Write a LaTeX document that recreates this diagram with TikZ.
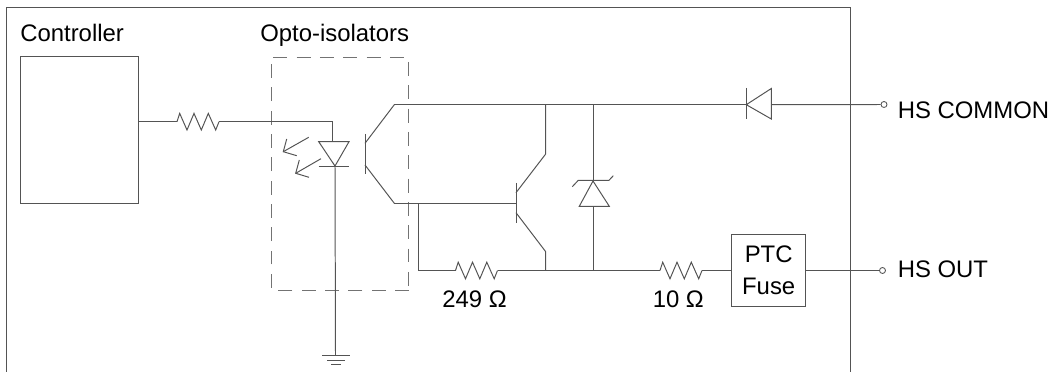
\documentclass[tikz,border=0pt]{standalone}
\usepackage{fontspec}
\setmainfont{Liberation Sans}
\usetikzlibrary{positioning}
\definecolor{wirecol}{gray}{0.33}
\definecolor{dashcol}{gray}{0.45}
\tikzset{
    wire/.style={draw=wirecol, line width=0.7pt},
    dashline/.style={draw=dashcol, line width=0.7pt, dash pattern=on 9.95pt off 6.64pt},
    label/.style={inner sep=0pt, anchor=base west, font=\fontsize{17}{22.8}\selectfont},
    box/.style={draw=wirecol, line width=0.7pt, inner sep=0pt, align=center, font=\fontsize{17}{23}\selectfont},
    terminal/.style={circle, draw=wirecol, line width=0.6pt, fill=white, inner sep=0pt, minimum size=0.15cm},
    resistor/.pic={
        \coordinate (-a) at (0,0);
        \coordinate (-b) at (42,0);
        \draw[wire] (0,0) -- (2.7,-8.3) -- (10,8.3) -- (17,-8.3) -- (24.3,8.3) -- (31.3,-8.3) -- (38.7,8.3) -- (42,0);
    }
}
\begin{document}
\begin{tikzpicture}[x=0.025cm, y=-0.025cm]
        \useasboundingbox (0,0) rectangle (1054,372);

        % Ramme
        \draw[wire] (6.5,372) -- (6.5,7) -- (850,7) -- (850,372);

        % Blokker
        \node[box, minimum width=2.94cm, minimum height=3.68cm] (ctrl) at (79.5,130.3) {};
        \node[box, minimum width=1.85cm, minimum height=1.79cm] (fuse) at (768.7,270.5) {PTC\\Fuse};
        \node[terminal] (common) at (884,104.5) {};
        \node[terminal] (out) at (882.5,270.5) {};

        % Tekster
        \node[label] (ctrltext) at (20,41.3) {Controller};
        \node[label] (optotext) at (260,41.3) {Opto-isolators};
        \node[label] (commontext) at (897.5,118.3) {HS COMMON};
        \node[label] (outtext) at (897.5,277.3) {HS OUT};
        \node[label] (r249text) at (442,307.5) {249 Ω};
        \node[label] (r10text) at (652.5,307.5) {10 Ω};

        % Opto-boks
        \draw[dashline] (273.3,57.3) -- (408.7,57.3) -- (408.7,290.3);
        \draw[dashline] (409,290.3) -- (271.5,290.3) -- (271.5,57.3);

        % Motstander
        \pic (r1) at (177,121.7) {resistor};
        \pic (r2) at (455.5,270.5) {resistor};
        \pic (r3) at (660,270.5) {resistor};

        % Knutepunkter
        \coordinate (ledtop) at (332.4,141.7);
        \coordinate (ledtip) at (335,166);
        \coordinate (gnd) at (335.5,355);
        \coordinate (optoc) at (394.3,104.7);
        \coordinate (optoe) at (394.3,203.3);
        \coordinate (npnb) at (516,203.3);
        \coordinate (npnc) at (545.7,154);
        \coordinate (npne) at (545.7,251.7);
        \coordinate (npncw) at (545.7,104.7);
        \coordinate (npnew) at (545.7,270.5);
        \coordinate (ztop) at (593,104.7);
        \coordinate (ztip) at (593,181);
        \coordinate (zbase) at (593,206.3);
        \coordinate (zbot) at (593,270.5);
        \coordinate (dtip) at (746.3,104.7);
        \coordinate (dbase) at (771.3,104.7);
        \coordinate (baseleft) at (418,203.3);
        \coordinate (r2left) at (418,270.5);

        % Ledninger
        \draw[wire] (ctrl.east |- r1-a) -- (r1-a);
        \draw[wire] (r1-b) -| (ledtop);
        \draw[wire] (ledtip) -- (gnd);
        \draw[wire] (optoc) -- (dtip);
        \draw[wire] (dbase) -- (common);
        \draw[wire] (optoe) -- (npnb);
        \draw[wire] (baseleft) -- (r2left) -- (r2-a);
        \draw[wire] (r2-b) -- (r3-a);
        \draw[wire] (r3-b) -- (fuse.west |- r3-b);
        \draw[wire] (fuse.east) -- (out);
        \draw[wire] (npncw) -- (npnc) -- (516,192.7);
        \draw[wire] (npnew) -- (npne) -- (516,212.7);
        \draw[wire] (ztop) -- (ztip);
        \draw[wire] (zbase) -- (zbot);

        % Lysdiode
        \draw[wire] (318.7,141.7) -- (349,141.7) -- (ledtip) -- cycle;
        \draw[wire] (318.7,166) -- (349,166);
        \draw[wire] (308.7,137.3) -- (283.3,151.7);
        \draw[wire] (286.7,139) -- (283.3,151.7) -- (296.7,155.7);
        \draw[wire] (321,158.7) -- (295.7,173.3);
        \draw[wire] (299.3,160) -- (295.7,173.3) -- (309,177.3);

        % Transistorer
        \draw[wire] (365,134) -- (365,174);
        \draw[wire] (optoc) -- (365,143.3);
        \draw[wire] (optoe) -- (365,165);
        \draw[wire] (516,183) -- (516,222.7);

        % Zenerdiode
        \draw[wire] (ztip) -- (609.3,206.3) -- (579.3,206.3) -- cycle;
        \draw[wire] (572.3,186.7) -- (578.3,180.3) -- (609,180.3) -- (613.3,175.7);

        % Diode
        \draw[wire] (771.3,88.5) -- (771.3,119) -- (dtip) -- cycle;
        \draw[wire] (746.3,88) -- (746.3,119);

        % Jord
        \draw[wire] (322,355) -- (349.5,355);
        \draw[wire] (327,360) -- (345,360);
        \draw[wire] (331,364) -- (341,364);
    \end{tikzpicture}
\end{document}
